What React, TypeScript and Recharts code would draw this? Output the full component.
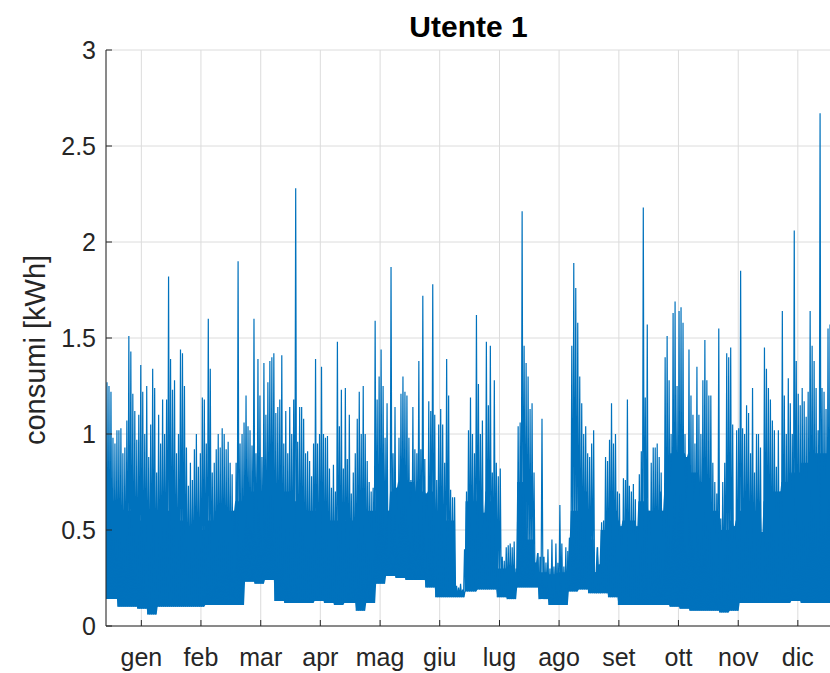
import { ComposedChart, Line, Area, XAxis, YAxis, CartesianGrid } from 'recharts';

// etichette mesi e tick
const months = ['gen', 'feb', 'mar', 'apr', 'mag', 'giu', 'lug', 'ago', 'set', 'ott', 'nov', 'dic'];
const monthTicks = [17.8, 47.8, 77.9, 107.9, 138, 168, 198.1, 228.1, 258.2, 288.2, 318.3, 348.3];
const yTicks = [0, 0.5, 1, 1.5, 2, 2.5, 3];

// picchi giornalieri [kWh]
const gen = [1.27, 1.25, 1.22, 0.98, 0.95, 1.02, 1.02, 1.03, 0.9, 0.93, 1.07, 1.51, 1.43, 1.21, 1.12, 0.97, 1.1, 1.36, 1.22, 1.0, 1.25, 0.88, 1.05, 1.34, 1.24, 0.8, 1.1, 0.95, 1.18, 1.0, 1.18];
const feb = [1.82, 1.39, 1.23, 1.28, 0.9, 1.0, 1.44, 1.42, 1.25, 0.93, 0.73, 0.85, 0.76, 0.92, 1.0, 0.83, 0.9, 1.19, 1.18, 0.95, 1.6, 1.34, 0.8, 0.85, 0.92, 1.0, 0.93, 1.03];
const mar = [1.0, 0.92, 0.96, 0.85, 0.79, 0.6, 0.85, 1.9, 0.95, 1.0, 1.06, 1.2, 1.04, 1.02, 0.94, 1.6, 0.9, 1.39, 1.2, 0.88, 1.37, 1.1, 1.27, 1.38, 1.4, 1.42, 1.11, 1.14, 1.18, 1.41, 0.95];
const apr = [1.12, 0.9, 1.14, 1.0, 1.18, 2.28, 0.96, 1.14, 1.14, 1.08, 0.9, 0.91, 0.86, 0.78, 0.95, 1.39, 0.95, 1.0, 1.35, 1.0, 0.98, 0.99, 0.82, 0.72, 0.84, 0.7, 1.48, 1.04, 1.23, 0.82];
const mag = [1.24, 0.87, 1.1, 0.69, 0.8, 0.9, 1.08, 1.22, 1.0, 1.25, 1.0, 0.86, 0.75, 0.7, 0.72, 1.59, 1.18, 1.3, 1.44, 1.25, 0.98, 1.16, 0.6, 1.87, 0.9, 1.14, 0.72, 0.98, 1.21, 1.3, 1.22];
const giu = [1.2, 0.98, 0.76, 1.14, 0.92, 0.9, 1.38, 0.92, 1.72, 0.87, 0.69, 1.17, 1.12, 1.78, 1.1, 0.76, 1.05, 1.13, 1.05, 0.85, 1.39, 1.2, 0.71, 0.67, 0.67, 0.21, 0.2, 0.22, 0.19, 0.4];
const lug = [0.7, 1.02, 1.19, 1.0, 0.9, 1.62, 1.26, 1.0, 1.07, 0.59, 1.48, 1.15, 1.46, 0.8, 1.28, 0.85, 0.78, 0.82, 0.36, 0.34, 0.41, 0.42, 0.43, 0.41, 0.44, 0.3, 1.04, 1.06, 2.16, 1.46, 1.37];
const ago = [1.3, 1.13, 1.16, 0.8, 0.33, 0.38, 0.36, 1.08, 0.36, 0.33, 0.4, 0.3, 0.45, 0.31, 0.43, 0.33, 0.63, 0.43, 0.31, 0.41, 0.39, 0.46, 1.46, 1.89, 1.76, 1.58, 1.3, 1.16, 1.0, 1.04, 0.9];
const set = [0.88, 0.95, 1.02, 0.28, 0.41, 0.32, 0.54, 0.55, 0.88, 0.86, 0.97, 1.16, 0.95, 1.0, 0.7, 0.69, 0.52, 0.77, 0.76, 1.18, 0.73, 0.7, 0.74, 0.66, 0.52, 0.79, 0.91, 2.18, 1.19, 1.57];
const ott = [0.6, 0.85, 0.93, 0.93, 0.95, 0.88, 0.8, 0.6, 1.4, 1.51, 1.28, 1.0, 1.63, 1.69, 1.25, 1.64, 1.66, 1.58, 1.0, 0.88, 1.44, 1.2, 1.1, 0.95, 1.35, 1.1, 1.0, 1.28, 1.49, 1.28, 1.2];
const nov = [1.2, 0.85, 0.75, 0.69, 1.55, 0.56, 0.75, 0.85, 1.42, 1.4, 1.45, 1.05, 0.52, 1.02, 1.03, 1.85, 1.03, 1.0, 1.15, 1.11, 0.9, 1.24, 0.8, 1.0, 1.0, 0.93, 0.49, 1.45, 1.34, 1.24];
const dic = [1.18, 1.07, 1.02, 0.83, 1.02, 0.7, 1.64, 1.2, 1.0, 1.29, 1.16, 1.0, 2.06, 1.38, 1.21, 1.15, 1.24, 1.17, 1.09, 1.22, 1.64, 1.46, 1.38, 1.24, 1.02, 2.67, 1.24, 1.22, 1.13, 1.55, 1.57];

// consumo di base (minimi), 6 valori per mese
const genMin = [0.14, 0.1, 0.1, 0.09, 0.06, 0.1];
const febMin = [0.1, 0.1, 0.1, 0.1, 0.11, 0.11];
const marMin = [0.11, 0.11, 0.23, 0.22, 0.24, 0.13];
const aprMin = [0.12, 0.12, 0.12, 0.13, 0.12, 0.11];
const magMin = [0.12, 0.08, 0.12, 0.22, 0.26, 0.25];
const giuMin = [0.24, 0.24, 0.2, 0.15, 0.15, 0.15];
const lugMin = [0.18, 0.19, 0.19, 0.15, 0.14, 0.2];
const agoMin = [0.2, 0.14, 0.11, 0.11, 0.18, 0.19];
const setMin = [0.17, 0.17, 0.15, 0.11, 0.11, 0.11];
const ottMin = [0.11, 0.11, 0.1, 0.09, 0.08, 0.08];
const novMin = [0.08, 0.07, 0.08, 0.12, 0.12, 0.12];
const dicMin = [0.12, 0.12, 0.13, 0.12, 0.12, 0.12];

// livello fino a cui la banda è piena, 6 valori per mese
const genTop = [0.6, 0.55, 0.6, 0.55, 0.6, 0.55];
const febTop = [0.6, 0.55, 0.5, 0.5, 0.55, 0.6];
const marTop = [0.6, 0.65, 0.7, 0.7, 0.75, 0.7];
const aprTop = [0.7, 0.65, 0.6, 0.6, 0.55, 0.55];
const magTop = [0.55, 0.55, 0.6, 0.7, 0.7, 0.75];
const giuTop = [0.75, 0.7, 0.7, 0.6, 0.55, 0.18];
const lugTop = [0.65, 0.7, 0.65, 0.3, 0.28, 0.75];
const agoTop = [0.45, 0.28, 0.27, 0.28, 0.6, 0.7];
const setTop = [0.45, 0.5, 0.6, 0.55, 0.55, 0.65];
const ottTop = [0.6, 0.7, 0.9, 0.9, 0.8, 0.75];
const novTop = [0.6, 0.5, 0.55, 0.6, 0.6, 0.65];
const dicTop = [0.7, 0.75, 0.8, 0.85, 0.9, 0.9];

const peaks = [gen, feb, mar, apr, mag, giu, lug, ago, set, ott, nov, dic];
const lows = [genMin, febMin, marMin, aprMin, magMin, giuMin, lugMin, agoMin, setMin, ottMin, novMin, dicMin];
const tops = [genTop, febTop, marTop, aprTop, magTop, giuTop, lugTop, agoTop, setTop, ottTop, novTop, dicTop];

type Pt = { day: number; v: number; band: [number, number] };
const data: Pt[] = [];
let day = 0;
peaks.forEach((mp, m) => {
  const lo = lows[m];
  const tp = tops[m];
  mp.forEach((p, i) => {
    const low = lo[Math.floor((i * lo.length) / mp.length)];
    const top = Math.min(p, tp[Math.floor((i * tp.length) / mp.length)]);
    data.push({ day: day, v: low, band: [low, top] });
    data.push({ day: day + 0.5, v: p, band: [low, top] });
    day++;
  });
});
data.push({ day: 365, v: dicMin[5], band: [dicMin[5], dicTop[5]] });

const axisColor = '#262626';
const blue = '#0072BD';
const font = 'Liberation Sans, Arial, Helvetica, sans-serif';

function YLabel() {
  return (
    <text x={35} y={350} transform="rotate(-90 35 350)" textAnchor="middle" dominantBaseline="central"
      fill={axisColor} fontSize={29} fontFamily={font}>
      consumi [kWh]
    </text>
  );
}

export default function App() {
  return (
    <div style={{ position: 'relative', width: 832, height: 673, fontFamily: font }}>
      <style>{'body{margin:0;overflow:hidden;background:#fff}'}</style>
      <div style={{ position: 'absolute', left: 106, width: 725, top: 12, textAlign: 'center',
        fontSize: 30, fontWeight: 'bold', lineHeight: 1, color: '#000' }}>
        Utente 1
      </div>
      <ComposedChart width={832} height={673} data={data} margin={{ top: 50, right: 1, bottom: 0, left: 0 }}>
        <CartesianGrid stroke="#dcdcdc" strokeWidth={1} />
        <XAxis dataKey="day" type="number" domain={[0, 365]} ticks={monthTicks} interval={0}
          tickFormatter={(_t: number, i: number) => months[i]} height={47}
          tickSize={-6} tickMargin={28} allowDataOverflow
          stroke={axisColor} tick={{ fill: axisColor, fontSize: 25, fontFamily: font }} />
        <XAxis xAxisId="top" orientation="top" type="number" domain={[0, 365]} ticks={monthTicks}
          interval={0} height={0} tick={false} tickSize={-6} stroke={axisColor} allowDataOverflow />
        <YAxis type="number" domain={[0, 3]} ticks={yTicks} interval={0} width={106}
          tickSize={-6} tickMargin={16} stroke={axisColor}
          tick={{ fill: axisColor, fontSize: 25, fontFamily: font }} label={<YLabel />} />
        <YAxis yAxisId="right" orientation="right" type="number" domain={[0, 3]} ticks={yTicks}
          interval={0} width={0} tick={false} tickSize={-6} stroke={axisColor} />
        <Area type="linear" dataKey="band" fill={blue} fillOpacity={1} stroke="none"
          isAnimationActive={false} />
        <Line type="linear" dataKey="v" stroke={blue} strokeWidth={1.2} dot={false}
          isAnimationActive={false} />
      </ComposedChart>
    </div>
  );
}
